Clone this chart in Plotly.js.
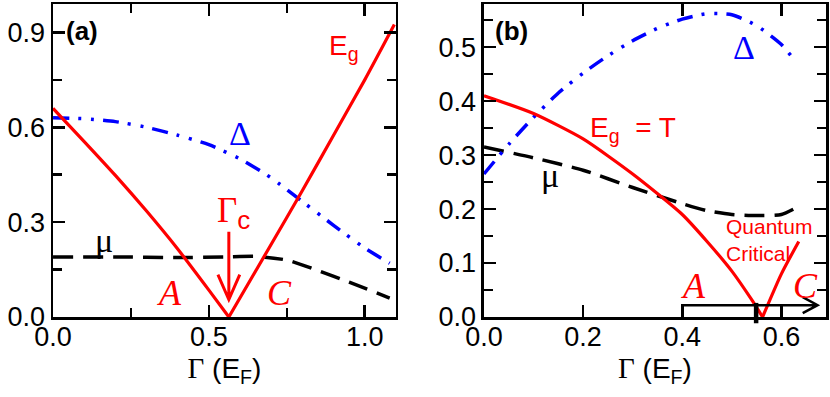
<!DOCTYPE html>
<html>
<head>
<meta charset="utf-8">
<script src="https://cdn.plot.ly/plotly-3.0.1.min.js"></script>
<style>
  body { margin: 0; background: #fff; }
  #chart { width: 830px; height: 397px; }
</style>
</head>
<body>
<div id="chart"></div>
<script>
// panel (a)
const gapA_x = [0, 0.1, 0.2, 0.3, 0.4, 0.5, 0.564, 0.7, 0.8, 0.9, 1.0, 1.095];
const gapA_y = [0.66, 0.555, 0.448, 0.335, 0.215, 0.085, 0, 0.23, 0.40, 0.575, 0.75, 0.925];

const deltaA_x = [0, 0.1, 0.2, 0.3, 0.4, 0.5, 0.6, 0.7, 0.8, 0.9, 1.0, 1.08];
const deltaA_y = [0.63, 0.627, 0.618, 0.60, 0.575, 0.545, 0.50, 0.44, 0.365, 0.29, 0.218, 0.17];

const muA_x = [0, 0.2, 0.4, 0.55, 0.65, 0.75, 0.85, 0.95, 1.08];
const muA_y = [0.19, 0.19, 0.188, 0.19, 0.192, 0.18, 0.147, 0.11, 0.06];

// panel (b)
const gapB_x = [0, 0.1, 0.2, 0.3, 0.4, 0.45, 0.5, 0.54, 0.562, 0.6, 0.635];
const gapB_y = [0.41, 0.377, 0.33, 0.265, 0.19, 0.14, 0.085, 0.032, 0, 0.08, 0.14];

const deltaB_x = [0, 0.05, 0.1, 0.15, 0.2, 0.25, 0.3, 0.35, 0.4, 0.45, 0.5, 0.55, 0.6, 0.63];
const deltaB_y = [0.265, 0.32, 0.37, 0.415, 0.452, 0.484, 0.512, 0.535, 0.552, 0.562, 0.56, 0.54, 0.505, 0.472];

const muB_x = [0, 0.1, 0.2, 0.3, 0.4, 0.45, 0.5, 0.55, 0.6, 0.635];
const muB_y = [0.315, 0.295, 0.272, 0.24, 0.21, 0.197, 0.19, 0.188, 0.19, 0.205];

const gammaC_A = 0.564;
const gammaC_B = 0.549;
const arrowB_start = 0.4;
const arrowB_end = 0.673;

const RED = '#ff0000', BLUE = '#0000ff', BLACK = '#000000';
const SANS = 'Liberation Sans, Arial, sans-serif';
const SERIF = 'Liberation Serif, Times New Roman, serif';
const dashMu = '20px,10px';
const dashDelta = '16px,9px,3px,10px,3px,9px';

function line(x, y, color, dash, xa, ya, width) {
  return {
    type: 'scatter', mode: 'lines', x: x, y: y,
    xaxis: xa, yaxis: ya, showlegend: false, hoverinfo: 'skip',
    line: { color: color, width: width || 3.2, dash: dash || 'solid', shape: 'spline', smoothing: 0.6 }
  };
}

// the gap curves have a sharp minimum: draw each side as its own smooth branch
function branches(x, y, xa, ya) {
  const i = y.indexOf(0);
  return [
    line(x.slice(0, i + 1), y.slice(0, i + 1), RED, 'solid', xa, ya, 3.2),
    line(x.slice(i), y.slice(i), RED, 'solid', xa, ya, 3.2)
  ];
}

const traces = [
  line(muA_x, muA_y, BLACK, dashMu, 'x', 'y', 3.5),
  line(deltaA_x, deltaA_y, BLUE, dashDelta, 'x', 'y', 3.5),
  ...branches(gapA_x, gapA_y, 'x', 'y'),
  line(muB_x, muB_y, BLACK, dashMu, 'x2', 'y2', 3.5),
  line(deltaB_x, deltaB_y, BLUE, dashDelta, 'x2', 'y2', 3.5),
  ...branches(gapB_x, gapB_y, 'x2', 'y2')
];

const tickFont = { family: SANS, size: 27, color: BLACK };
const axisTitle = {
  text: '<span style="font-family:Liberation Serif;font-size:29px">Γ</span> (E<sub>F</sub>)',
  font: { family: SANS, size: 28, color: BLACK },
  standoff: 7
};

function axis(extra) {
  return Object.assign({
    showline: true, mirror: 'ticks', linecolor: BLACK, linewidth: 2.5,
    ticks: 'inside', ticklen: 12, tickwidth: 2.5, tickcolor: BLACK,
    showgrid: false, zeroline: false, tickfont: tickFont, fixedrange: true
  }, extra);
}

function minor(dtick) {
  return { dtick: dtick, ticks: 'inside', ticklen: 9, tickwidth: 2.5, tickcolor: BLACK, showgrid: false };
}

function ann(text, x, y, xr, yr, font, extra) {
  return Object.assign({ text: text, x: x, y: y, xref: xr, yref: yr, showarrow: false, font: font }, extra || {});
}

const redSans = { family: SANS, size: 28, color: RED };
const redSerifBig = { family: SERIF, size: 35, color: RED };
const italicA = { family: SERIF, size: 36, color: RED, style: 'italic' };
const greek = (c) => ({ family: SERIF, size: 34, color: c });

const annotations = [
  ann('<b>(a)</b>', 0.093, 0.905, 'x', 'y', { family: SANS, size: 26, color: BLACK }),
  ann('E<sub>g</sub>', 0.935, 0.852, 'x', 'y', redSans),
  ann('Δ', 0.60, 0.58, 'x', 'y', greek(BLUE)),
  ann('Γ<sub><span style="font-family:Liberation Sans;font-size:26px">c</span></sub>', 0.58, 0.33, 'x', 'y', redSerifBig),
  ann('μ', 0.163, 0.243, 'x', 'y', greek(BLACK)),
  ann('A', 0.375, 0.076, 'x', 'y', italicA),
  ann('C', 0.728, 0.076, 'x', 'y', italicA),

  ann('<b>(b)</b>', 0.056, 0.53, 'x2', 'y2', { family: SANS, size: 26, color: BLACK }),
  ann('Δ', 0.525, 0.50, 'x2', 'y2', greek(BLUE)),
  ann('E<sub>g</sub>  = T', 0.30, 0.347, 'x2', 'y2', redSans),
  ann('μ', 0.133, 0.262, 'x2', 'y2', greek(BLACK)),
  ann('Quantum<br>Critical', 0.485, 0.143, 'x2', 'y2', { family: SANS, size: 21, color: RED }, { xanchor: 'left', align: 'left' }),
  ann('A', 0.422, 0.057, 'x2', 'y2', italicA),
  ann('C', 0.648, 0.057, 'x2', 'y2', italicA)
];

// arrow pieces, sized in axis units
const vA = 0.035, hA = 0.079;
const hB = 0.030, vB = 0.015, yB = 0.022;
const shapes = [
  { type: 'path', xref: 'x', yref: 'y', line: { color: RED, width: 3 },
    path: `M ${gammaC_A},0.27 L ${gammaC_A},0.055 M ${gammaC_A - vA},${0.055 + hA} L ${gammaC_A},0.055 L ${gammaC_A + vA},${0.055 + hA}` },
  { type: 'path', xref: 'x2', yref: 'y2', line: { color: BLACK, width: 2.5 },
    path: `M ${arrowB_start},0 L ${arrowB_start},${yB} L ${arrowB_end},${yB} M ${arrowB_end - hB},${yB + vB} L ${arrowB_end},${yB} L ${arrowB_end - hB},${yB - vB}` },
  { type: 'line', xref: 'x2', yref: 'paper', x0: gammaC_B, x1: gammaC_B, y0: -0.02, y1: 0.045,
    line: { color: BLACK, width: 4.5 } }
];

const layout = {
  width: 830, height: 397,
  margin: { l: 0, r: 0, t: 4, b: 80 },
  paper_bgcolor: '#fff', plot_bgcolor: '#fff',
  showlegend: false,
  xaxis: axis({ domain: [0.0639, 0.477], range: [0, 1.1], dtick: 0.5, tick0: 0, tickformat: '.1f', minor: minor(0.25), ticklabelstandoff: -6, title: axisTitle, anchor: 'y' }),
  yaxis: axis({ domain: [0, 1], range: [0, 0.99], dtick: 0.3, tick0: 0, tickformat: '.1f', minor: minor(0.15), anchor: 'x' }),
  xaxis2: axis({ domain: [0.5831, 0.9952], range: [0, 0.69], dtick: 0.2, tick0: 0, tickformat: '.1f', ticklabelstandoff: -6, title: axisTitle, anchor: 'y2' }),
  yaxis2: axis({ domain: [0, 1], range: [0, 0.58], dtick: 0.1, tick0: 0, tickformat: '.1f', minor: minor(0.05), anchor: 'x2' }),
  annotations: annotations,
  shapes: shapes
};

Plotly.newPlot('chart', traces, layout, { displayModeBar: false, staticPlot: true });
</script>
</body>
</html>
